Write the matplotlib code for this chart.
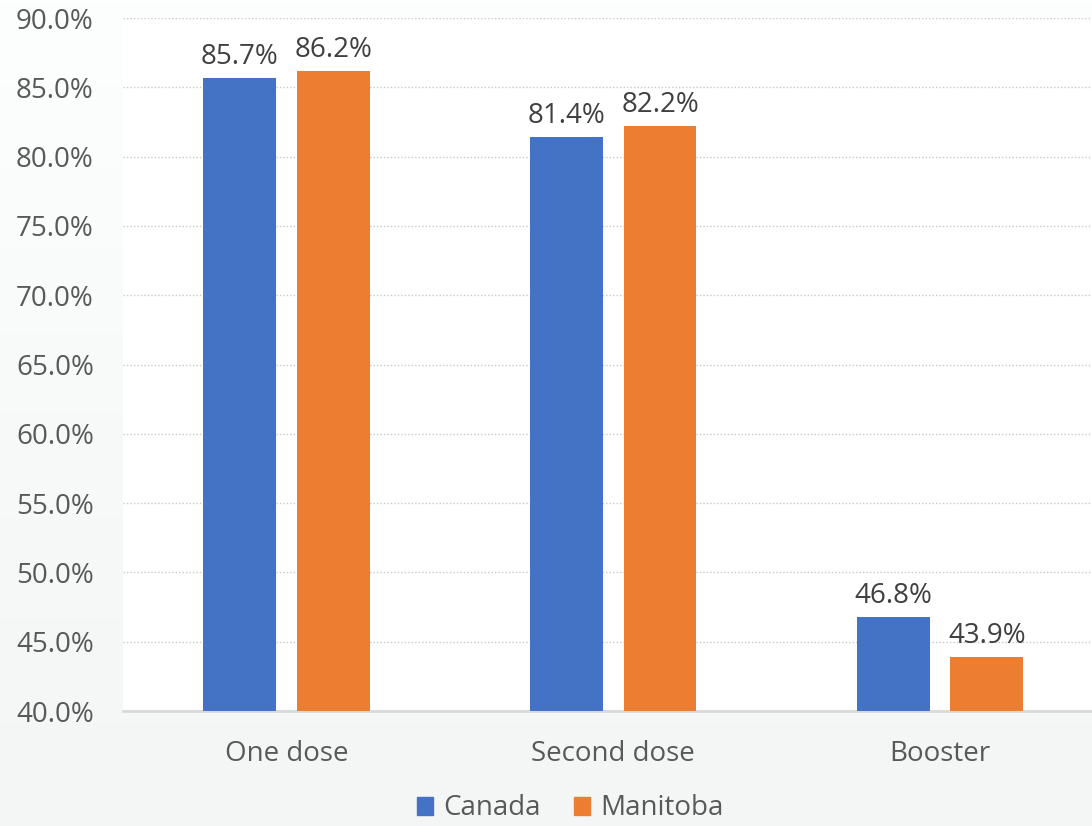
import matplotlib
matplotlib.use('Agg')

import numpy as np
import matplotlib.pyplot as plt
from matplotlib.patches import Patch

categories = ['One dose', 'Second dose', 'Booster']
canada = [85.7, 81.4, 46.8]
manitoba = [86.2, 82.2, 43.9]
y_ticks = [40, 45, 50, 55, 60, 65, 70, 75, 80, 85, 90]

blue = '#4472c4'
orange = '#ed7d31'
text_color = '#595959'

plt.rcParams['font.family'] = ['Open Sans', 'DejaVu Sans']

fig = plt.figure(figsize=(10.92, 8.26), dpi=100)

# soft background gradient (white top-left -> pale grey-green bottom)
bg = fig.add_axes([0, 0, 1, 1], zorder=-10)
grad = np.linspace(0, 1, 256).reshape(-1, 1)
bg.imshow(grad, aspect='auto', cmap=matplotlib.colors.LinearSegmentedColormap.from_list(
    'bg', ['#fdfefe', '#f3f6f5']), extent=[0, 1, 1, 0])
bg.axis('off')

ax = fig.add_axes([0.1126, 0.1392, 0.898, 0.8390])
ax.set_facecolor('white')

x = np.arange(len(categories))
w = 0.223
off = 0.143
b1 = ax.bar(x - off, canada, w, color=blue, zorder=3)
b2 = ax.bar(x + off, manitoba, w, color=orange, zorder=3)

fs = 20
for bars, vals in ((b1, canada), (b2, manitoba)):
    for rect, v in zip(bars, vals):
        ax.text(rect.get_x() + rect.get_width() / 2, v + 0.5, '%.1f%%' % v,
                ha='center', va='bottom', fontsize=fs, color='#404040')

ax.set_ylim(40, 90)
ax.set_xlim(-0.5, 2.5)
ax.set_yticks(y_ticks)
ax.set_yticklabels(['%.1f%%' % t for t in y_ticks])
ax.set_xticks(x)
ax.set_xticklabels(categories)
ax.tick_params(axis='both', length=0, labelsize=fs, colors=text_color)
ax.tick_params(axis='y', pad=21)
ax.tick_params(axis='x', pad=21)

ax.grid(axis='y', color='#c8c8c8', linestyle=(0, (1, 1.5)), linewidth=1, zorder=0)
for s in ['top', 'right', 'left']:
    ax.spines[s].set_visible(False)
ax.spines['bottom'].set_color('#d9d9d9')
ax.spines['bottom'].set_linewidth(2)

handles = [Patch(color=blue, label='Canada'), Patch(color=orange, label='Manitoba')]
leg = fig.legend(handles=handles, loc='lower center', ncol=2, frameon=False,
                 bbox_to_anchor=(0.522, -0.026), fontsize=fs, handlelength=0.6,
                 handleheight=0.6, handletextpad=0.35, columnspacing=1.2)
for t in leg.get_texts():
    t.set_color(text_color)

fig.savefig('out.png', dpi=100, facecolor=fig.get_facecolor())
